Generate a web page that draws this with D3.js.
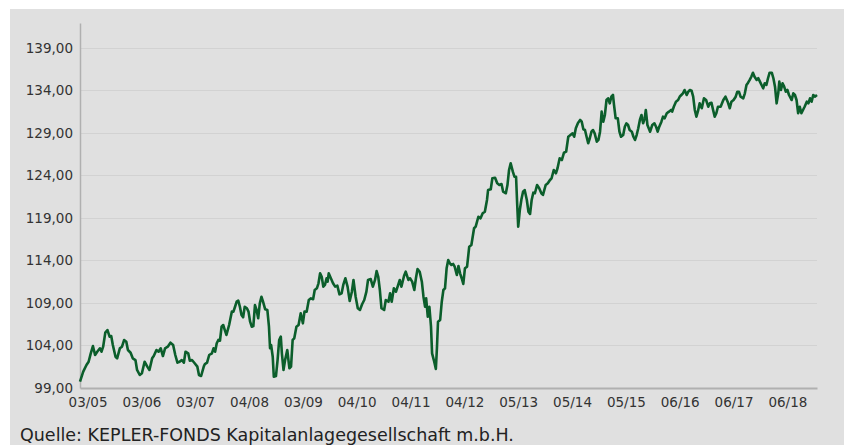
<!DOCTYPE html>
<html><head><meta charset="utf-8">
<script src="https://cdn.jsdelivr.net/npm/d3@7"></script>
<style>html,body{margin:0;padding:0;background:#fff;}svg{display:block;}</style>
</head><body>
<svg id="chart" width="844" height="445"></svg>
<script>
const years = [2005.00,2005.06,2005.12,2005.16,2005.20,2005.24,2005.28,2005.32,2005.37,2005.40,2005.43,2005.47,2005.51,2005.55,2005.58,2005.61,2005.66,2005.69,2005.74,2005.78,2005.82,2005.86,2005.89,2005.94,2005.98,2006.03,2006.06,2006.11,2006.15,2006.20,2006.25,2006.29,2006.34,2006.37,2006.42,2006.46,2006.50,2006.54,2006.58,2006.63,2006.68,2006.73,2006.77,2006.81,2006.85,2006.89,2006.93,2006.96,2007.01,2007.04,2007.08,2007.13,2007.18,2007.21,2007.25,2007.30,2007.32,2007.36,2007.40,2007.45,2007.48,2007.51,2007.54,2007.57,2007.60,2007.63,2007.66,2007.69,2007.72,2007.77,2007.82,2007.85,2007.88,2007.91,2007.94,2007.97,2008.00,2008.03,2008.06,2008.10,2008.13,2008.16,2008.19,2008.22,2008.25,2008.28,2008.31,2008.34,2008.37,2008.40,2008.44,2008.48,2008.51,2008.53,2008.55,2008.58,2008.60,2008.64,2008.67,2008.70,2008.73,2008.75,2008.78,2008.81,2008.85,2008.89,2008.92,2008.95,2008.98,2009.02,2009.06,2009.10,2009.14,2009.17,2009.21,2009.25,2009.29,2009.33,2009.36,2009.40,2009.43,2009.46,2009.49,2009.52,2009.55,2009.58,2009.60,2009.62,2009.66,2009.70,2009.74,2009.78,2009.82,2009.86,2009.89,2009.93,2009.97,2010.01,2010.05,2010.08,2010.12,2010.16,2010.20,2010.24,2010.28,2010.32,2010.35,2010.40,2010.44,2010.48,2010.51,2010.54,2010.57,2010.60,2010.65,2010.68,2010.73,2010.76,2010.79,2010.83,2010.87,2010.90,2010.94,2010.97,2011.02,2011.05,2011.10,2011.13,2011.17,2011.21,2011.24,2011.27,2011.31,2011.35,2011.38,2011.41,2011.43,2011.46,2011.49,2011.52,2011.54,2011.58,2011.61,2011.63,2011.65,2011.69,2011.72,2011.75,2011.78,2011.81,2011.84,2011.87,2011.90,2011.93,2011.96,2012.00,2012.03,2012.06,2012.09,2012.12,2012.15,2012.19,2012.23,2012.27,2012.32,2012.35,2012.40,2012.44,2012.48,2012.52,2012.56,2012.58,2012.63,2012.66,2012.71,2012.75,2012.79,2012.83,2012.86,2012.91,2012.94,2012.97,2013.00,2013.04,2013.07,2013.10,2013.12,2013.14,2013.17,2013.20,2013.23,2013.26,2013.30,2013.33,2013.36,2013.39,2013.42,2013.45,2013.49,2013.53,2013.57,2013.60,2013.65,2013.69,2013.73,2013.76,2013.80,2013.84,2013.87,2013.91,2013.95,2013.99,2014.03,2014.07,2014.11,2014.15,2014.18,2014.21,2014.25,2014.29,2014.32,2014.35,2014.38,2014.41,2014.44,2014.47,2014.50,2014.53,2014.56,2014.60,2014.63,2014.66,2014.69,2014.72,2014.75,2014.78,2014.81,2014.84,2014.87,2014.90,2014.92,2014.95,2014.99,2015.02,2015.05,2015.09,2015.12,2015.15,2015.18,2015.21,2015.25,2015.28,2015.31,2015.34,2015.37,2015.40,2015.43,2015.46,2015.49,2015.51,2015.54,2015.59,2015.63,2015.67,2015.70,2015.73,2015.76,2015.80,2015.83,2015.86,2015.90,2015.94,2015.98,2016.00,2016.03,2016.07,2016.11,2016.14,2016.17,2016.20,2016.23,2016.27,2016.30,2016.33,2016.36,2016.39,2016.42,2016.45,2016.48,2016.51,2016.55,2016.59,2016.63,2016.67,2016.70,2016.73,2016.76,2016.79,2016.82,2016.85,2016.90,2016.95,2016.99,2017.03,2017.07,2017.10,2017.14,2017.18,2017.21,2017.24,2017.27,2017.32,2017.35,2017.38,2017.41,2017.44,2017.47,2017.50,2017.53,2017.57,2017.60,2017.63,2017.66,2017.69,2017.72,2017.75,2017.78,2017.81,2017.85,2017.88,2017.91,2017.94,2017.97,2017.99,2018.02,2018.05,2018.08,2018.11,2018.14,2018.17,2018.22,2018.25,2018.28,2018.31,2018.34,2018.37,2018.40,2018.43,2018.46,2018.50,2018.53,2018.56,2018.59,2018.62,2018.65,2018.69];
const values = [99.74,100.92,101.71,102.09,103.08,103.94,102.88,103.27,103.67,103.27,103.86,105.51,105.82,105.04,105.12,104.06,102.68,102.49,103.67,103.86,104.65,104.45,103.47,103.15,102.49,102.29,101.12,100.53,100.73,102.09,101.51,101.12,102.49,102.76,103.47,103.27,103.67,102.76,103.67,103.86,104.33,104.06,102.88,101.98,102.09,102.29,101.98,103.27,103.08,102.21,102.29,101.91,101.51,100.53,100.41,101.55,101.82,101.98,102.88,103.08,103.67,103.27,104.26,104.65,104.56,106.21,106.41,105.82,105.24,106.41,107.98,107.98,108.56,109.15,109.27,108.56,107.59,107.32,108.56,108.38,107.98,106.80,106.21,106.29,108.76,108.18,107.20,108.96,109.74,109.15,108.26,108.18,106.21,103.67,104.06,102.68,100.33,100.41,102.29,104.65,105.04,103.08,101.12,102.29,103.47,101.32,101.51,104.65,104.85,106.21,106.41,107.79,106.61,107.98,107.98,109.35,109.55,109.44,110.53,110.73,111.32,112.49,112.09,110.92,111.12,111.91,111.51,112.49,111.91,111.32,110.92,111.04,110.02,110.14,111.12,111.91,110.92,109.24,110.33,111.71,109.74,108.38,108.18,108.85,109.35,110.33,111.71,111.82,110.92,111.71,112.76,112.09,110.53,108.38,108.18,109.35,109.15,110.14,109.15,110.73,110.33,110.92,111.71,110.92,112.21,112.68,111.71,111.91,111.51,110.53,111.91,113.00,112.68,111.51,109.74,108.56,109.55,107.39,108.56,106.21,103.08,102.09,101.24,103.67,106.80,107.00,109.15,110.53,110.73,113.08,114.06,113.67,113.47,113.59,113.27,112.29,113.35,112.49,111.91,111.24,113.08,113.27,115.62,115.82,117.79,117.98,119.15,118.96,119.55,119.74,121.12,122.29,122.38,123.67,123.74,123.08,122.88,123.00,122.09,121.91,122.88,124.65,125.44,124.45,123.86,123.86,120.73,117.98,119.94,121.20,122.09,122.29,121.12,119.74,119.47,121.12,121.98,121.91,122.88,122.49,121.91,121.71,122.88,123.08,123.47,123.67,124.65,124.26,124.85,126.02,125.82,126.68,126.80,128.56,128.76,128.96,128.56,129.55,130.18,130.53,130.33,129.44,129.35,128.56,127.79,128.38,129.15,129.35,128.96,127.98,128.18,129.15,131.51,130.33,131.12,132.88,133.08,132.49,133.27,133.47,132.29,130.73,130.73,129.15,128.56,128.76,129.74,130.14,129.94,129.35,129.15,128.56,128.18,128.76,129.55,130.53,131.12,130.14,130.73,131.71,129.94,129.15,129.94,130.14,129.74,129.15,129.74,130.33,130.92,130.73,131.32,131.51,131.71,131.51,132.09,132.68,132.88,133.27,133.47,133.67,134.06,133.47,133.86,134.06,133.98,133.27,131.71,130.92,131.59,132.49,131.91,133.08,132.88,132.09,132.49,132.56,131.71,130.92,131.32,132.09,132.09,132.88,133.27,132.68,131.91,132.68,132.88,133.27,133.86,133.86,133.27,133.08,133.67,134.65,134.92,135.24,135.62,136.09,135.62,135.24,135.44,135.04,134.65,134.26,134.85,134.65,135.44,136.09,136.09,135.44,134.45,132.49,133.67,135.04,134.06,134.85,134.45,133.86,134.06,133.47,132.88,133.67,133.47,132.88,131.32,132.09,131.32,131.71,132.09,132.68,132.49,133.08,132.68,133.47,133.27,133.47];

const xTickLabels = ["03/05","03/06","03/07","04/08","03/09","04/10","04/11","04/12","05/13","05/14","05/15","06/16","06/17","06/18"];
const xTickYears = [2005.14,2006.14,2007.14,2008.14,2009.14,2010.14,2011.14,2012.14,2013.14,2014.14,2015.14,2016.14,2017.14,2018.14];
const yTicks = [99,104,109,114,119,124,129,134,139];
const yMax = 141.94;
const source = "Quelle: KEPLER-FONDS Kapitalanlagegesellschaft m.b.H.";

const data = years.map((t,i)=>({t, v: values[i]}));
const svg = d3.select("#chart");
const W = 844, H = 445;
const m = {left: 80, right: 27, top: 23, bottom: 57};

svg.append("rect").attr("x",10).attr("y",9).attr("width",W-10).attr("height",H-9).attr("fill","#e0e0e0");

const x = d3.scaleLinear().domain([years[0], years[years.length-1]]).range([m.left, W-m.right]);
const y = d3.scaleLinear().domain([99, yMax]).range([H-m.bottom, m.top]);

// gridlines
svg.append("g").selectAll("line").data(yTicks.slice(1)).join("line")
  .attr("x1", m.left).attr("x2", W-m.right)
  .attr("y1", d=>Math.round(y(d))+0.5).attr("y2", d=>Math.round(y(d))+0.5)
  .attr("stroke","#d2d2d2").attr("stroke-width",1);

// y axis
const yAxis = d3.axisLeft(y).tickValues(yTicks).tickSize(0).tickPadding(7)
  .tickFormat(d=>d3.format(".2f")(d).replace(".",","));
const gy = svg.append("g").attr("transform",`translate(${m.left},0)`).call(yAxis);
gy.select(".domain").attr("stroke","#b0b0b0").attr("stroke-width",1.5);
gy.selectAll("text").attr("fill","#333").style("font-family","'DejaVu Sans', Verdana, sans-serif").style("font-size","13.5px");

// x axis
const xAxis = d3.axisBottom(x).tickValues(xTickYears).tickSize(0).tickPadding(9)
  .tickFormat((d,i)=>xTickLabels[i]);
const gx = svg.append("g").attr("transform",`translate(0,${H-m.bottom})`).call(xAxis);
gx.select(".domain").attr("stroke","#b0b0b0").attr("stroke-width",2);
gx.selectAll("text").attr("fill","#333").style("font-family","'DejaVu Sans', Verdana, sans-serif").style("font-size","13.5px");

// line
const line = d3.line().x(d=>x(d.t)).y(d=>y(d.v));
svg.append("path").datum(data).attr("d",line).attr("fill","none")
  .attr("stroke","#0b5e2b").attr("stroke-width",2.6).attr("stroke-linejoin","round");

svg.append("text").attr("x",20).attr("y",441).text(source)
  .attr("fill","#222").style("font-family","'DejaVu Sans', Verdana, sans-serif").style("font-size","17.5px");
</script>
</body></html>
